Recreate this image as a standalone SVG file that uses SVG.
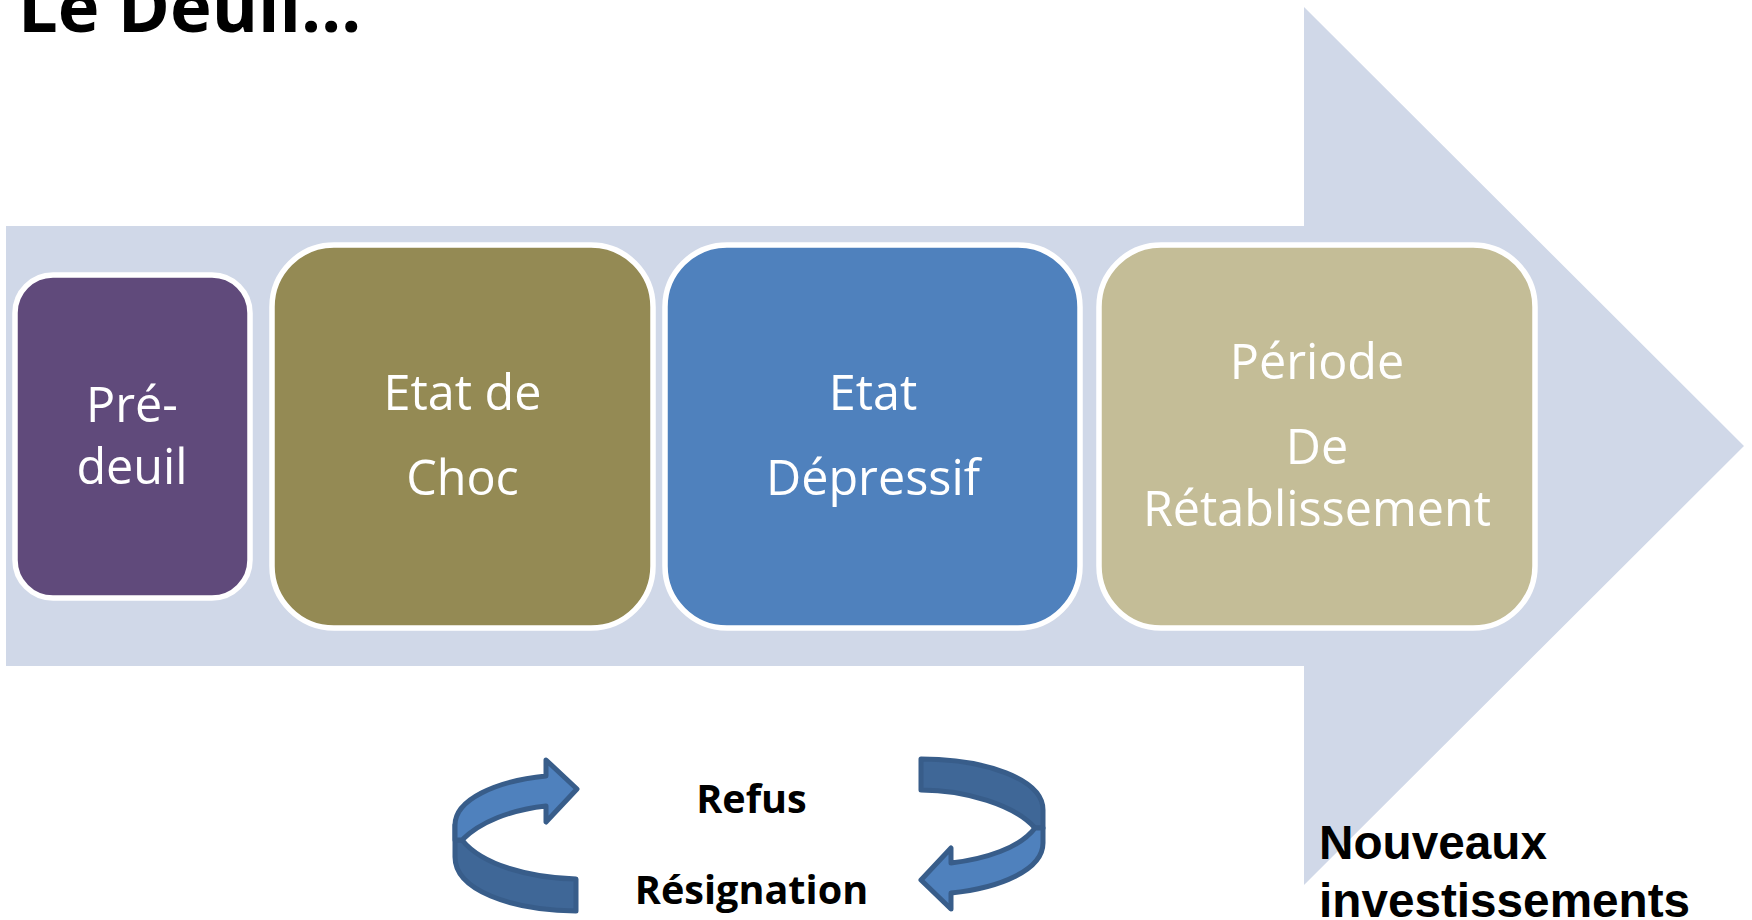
<svg xmlns="http://www.w3.org/2000/svg" width="1752" height="920" viewBox="0 0 1752 920">
<style>
.box{stroke:#fff;stroke-width:5.5}
.t{font-family:"Open Sans","Noto Sans",sans-serif;font-size:48.5px;fill:#fff;text-anchor:middle}
.b{font-family:"Open Sans","Noto Sans",sans-serif;font-weight:700;font-size:39.6px;fill:#000;text-anchor:middle}
.n{font-family:"Liberation Sans",Arial,sans-serif;font-weight:700;font-size:47.7px;fill:#000}
.a{stroke:#385d8a;stroke-width:5;stroke-linejoin:round}
.dark{fill:#3f6797}
.light{fill:#4f81bd}
</style>
<rect width="1752" height="920" fill="#fff"/>
<g id="title"><text x="18" y="32" font-family="'Open Sans','Noto Sans',sans-serif" font-weight="700" font-size="70.500px" fill="#000">Le Deuil…</text></g>
<g id="big-arrow"><path d="M6 226H1304V7L1744 446L1304 885V666H6Z" fill="#d0d8e8"/></g>
<g id="pre-deuil"><rect class="box" x="15" y="275" width="235" height="323" rx="38" fill="#604a7b"/><text class="t" x="132" y="421.500">Pré-</text><text class="t" x="132" y="483.500">deuil</text></g>
<g id="choc"><rect class="box" x="272" y="245" width="381" height="383" rx="62" fill="#948a54"/><text class="t" x="462.500" y="409.500">Etat de</text><text class="t" x="462.500" y="494.500">Choc</text></g>
<g id="depressif"><rect class="box" x="665" y="245" width="415" height="383" rx="62" fill="#4f81bd"/><text class="t" x="873" y="409.500">Etat</text><text class="t" x="873" y="494.500">Dépressif</text></g>
<g id="retablissement"><rect class="box" x="1099" y="245" width="436" height="383" rx="62" fill="#c4bd97"/><text class="t" x="1317" y="378.500">Période</text><text class="t" x="1317" y="464">De</text><text class="t" x="1317" y="526">Rétablissement</text></g>
<g id="labels"><text class="b" x="751.500" y="813">Refus</text><text class="b" x="751.500" y="904">Résignation</text></g>
<g id="nouveaux"><text class="n" x="1319" y="859">Nouveaux</text><text class="n" x="1319" y="917">investissements</text></g>
<g id="connectors">
<g id="arrow-left">
<path class="a dark" d="M576 879V911C510 910 455 890 455 857V825V840H462C482 865 530 878 576 879Z"/>
<path class="a light" d="M455 840V825C455 800 495 781 546 776V760L577 789L546 822V806C510 810 480 822 462 840Z"/>
</g>
<g id="arrow-right">
<path class="a dark" d="M921 759C985 759 1043 779 1043 810V828H1035C1015 805 965 790 921 790Z"/>
<path class="a light" d="M1043 828V843C1043 870 1000 888 951 893V909L921 880L951 848V863C985 859 1020 848 1035 828Z"/>
</g>
</g>
</svg>
